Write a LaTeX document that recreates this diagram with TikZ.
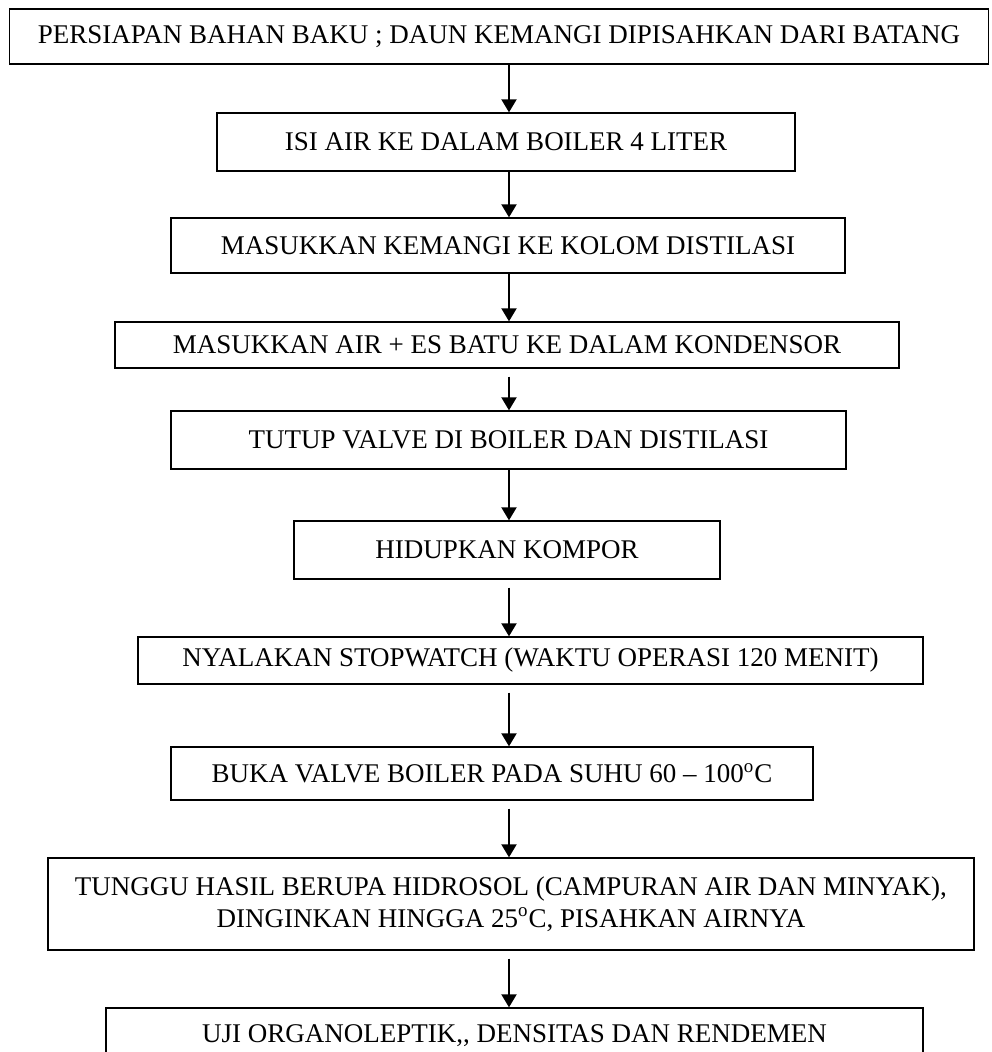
\documentclass[tikz,border=0pt]{standalone}
\usepackage{fontspec}
\setmainfont{Liberation Serif}
\usetikzlibrary{arrows.meta}
\tikzset{
  stepbox/.style={draw=black, line width=0.65pt, fill=white, inner sep=2pt,
              font=\fontsize{13.5pt}{16pt}\selectfont, align=center},
  flow/.style={-{Triangle[length=6.5pt,width=7.5pt]}, line width=1pt, black},
  gapflow/.style={flow, shorten <=4pt},
}

\begin{document}
\begin{tikzpicture}[x=0.5pt,y=-0.5pt]
        \useasboundingbox (0,0) rectangle (991,1052);
        \coordinate (axis) at (509,0);
        \node[stepbox,minimum width=489.75pt,minimum height=27.5pt] (prep) at (499,36.5) {PERSIAPAN BAHAN BAKU ; DAUN KEMANGI DIPISAHKAN DARI BATANG};
        \node[stepbox,minimum width=289pt,minimum height=29pt] (isi) at (506,142) {ISI AIR KE DALAM BOILER 4 LITER};
        \node[stepbox,minimum width=337pt,minimum height=27.5pt] (kolom) at (508,245.5) {MASUKKAN KEMANGI KE KOLOM DISTILASI};
        \node[stepbox,minimum width=392pt,minimum height=23pt] (kond) at (507,345) {MASUKKAN AIR + ES BATU KE DALAM KONDENSOR};
        \node[stepbox,minimum width=337.5pt,minimum height=29pt] (tutup) at (508.5,440) {TUTUP VALVE DI BOILER DAN DISTILASI};
        \node[stepbox,minimum width=213pt,minimum height=29pt] (kompor) at (507,550) {HIDUPKAN KOMPOR};
        \node[stepbox,minimum width=392.5pt,minimum height=23.5pt] (stopw) at (530.5,660.5) {NYALAKAN STOPWATCH (WAKTU OPERASI 120 MENIT)};
        \node[stepbox,minimum width=321pt,minimum height=26.5pt] (buka) at (492,773.5) {BUKA VALVE BOILER PADA SUHU 60 -- 100\textsuperscript{o}C};
        \node[stepbox,minimum width=463pt,minimum height=46pt] (tunggu) at (511,904) {TUNGGU HASIL BERUPA HIDROSOL (CAMPURAN AIR DAN MINYAK),\\DINGINKAN HINGGA 25\textsuperscript{o}C, PISAHKAN AIRNYA};
        \node[stepbox,minimum width=408.5pt,minimum height=27.5pt] (uji) at (514.5,1035.5) {UJI ORGANOLEPTIK,{},{} DENSITAS DAN RENDEMEN};
        \draw[flow] (prep.south -| axis) -- (isi.north -| axis);
        \draw[flow] (isi.south -| axis) -- (kolom.north -| axis);
        \draw[flow] (kolom.south -| axis) -- (kond.north -| axis);
        \draw[gapflow] (kond.south -| axis) -- (tutup.north -| axis);
        \draw[flow] (tutup.south -| axis) -- (kompor.north -| axis);
        \draw[gapflow] (kompor.south -| axis) -- (stopw.north -| axis);
        \draw[gapflow] (stopw.south -| axis) -- (buka.north -| axis);
        \draw[gapflow] (buka.south -| axis) -- (tunggu.north -| axis);
        \draw[gapflow] (tunggu.south -| axis) -- (uji.north -| axis);
      \end{tikzpicture}
\end{document}
